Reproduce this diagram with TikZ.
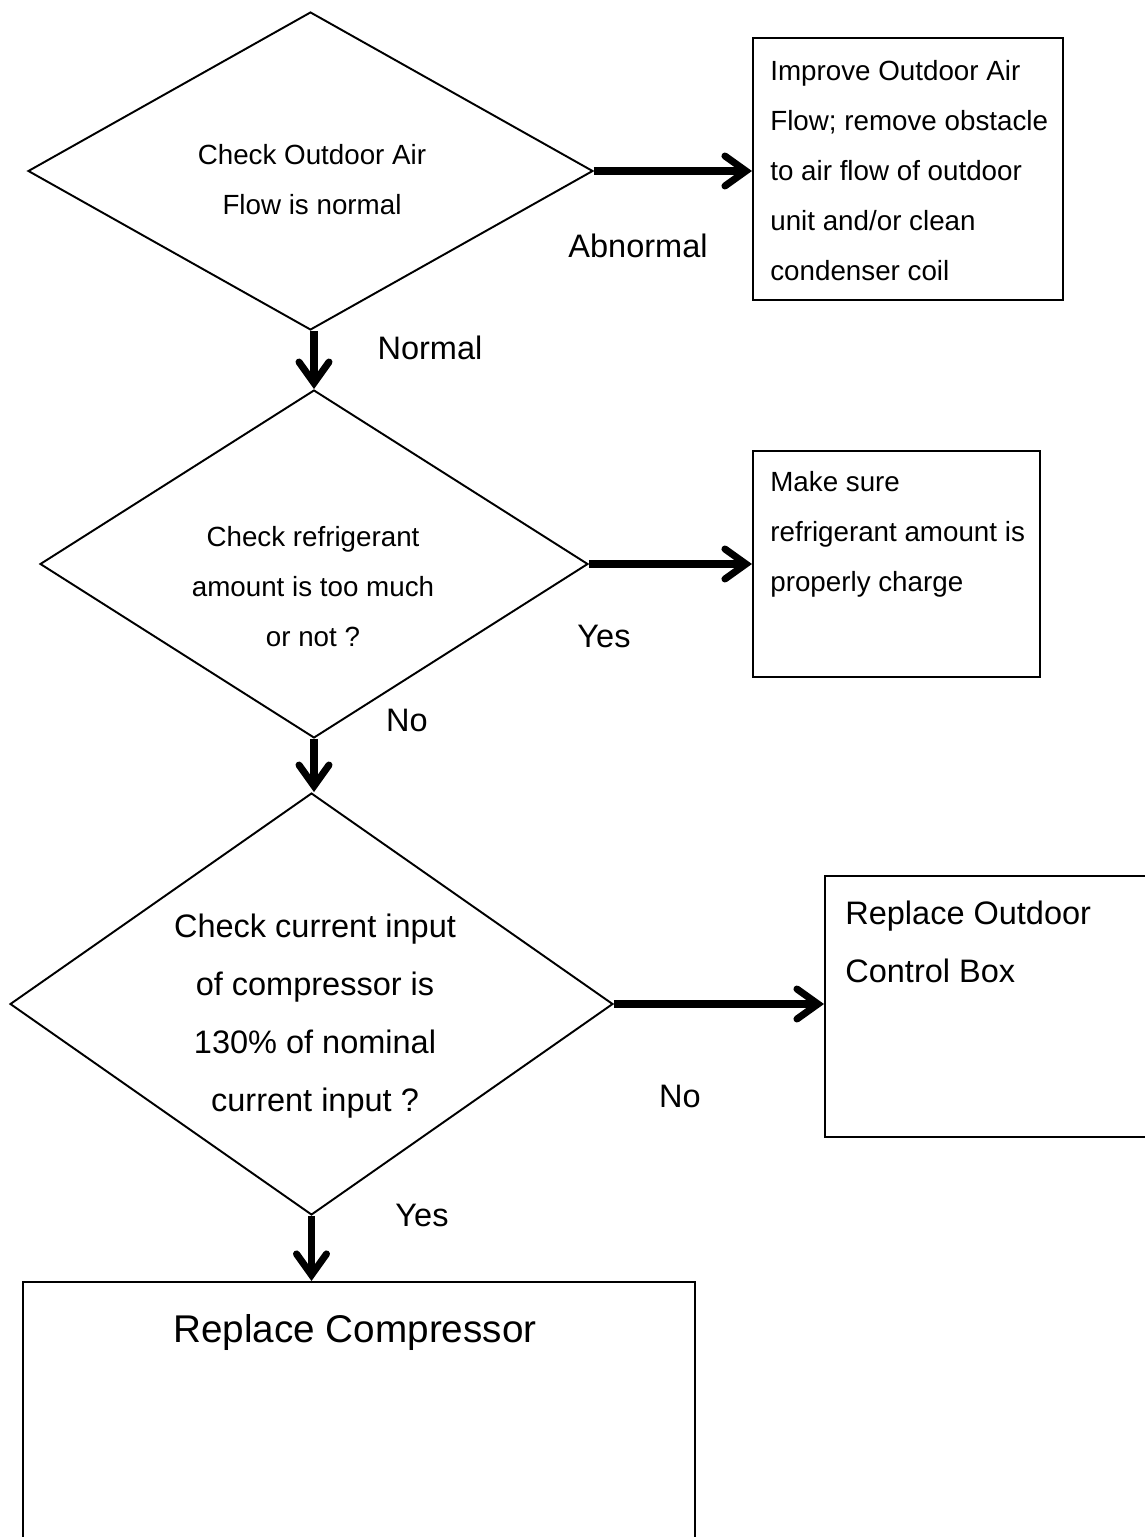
\documentclass[tikz,border=0pt]{standalone}
\usepackage{fontspec}
\setmainfont{Liberation Sans}
\usepackage{xcolor}
\usetikzlibrary{positioning, calc, shapes.geometric, arrows.meta}

\begin{document}
\begin{tikzpicture}[
    x=0.02cm, y=-0.02cm,
    smalltext/.style={font=\fontsize{15.8}{28.45}\selectfont, inner sep=0pt},
    bigtext/.style={font=\fontsize{18.5}{33}\selectfont, inner sep=0pt},
    decision/.style={
        diamond,
        draw,
        line width=1.1pt,
        inner sep=0pt
    },
    process/.style={
        rectangle,
        draw,
        line width=1.2pt,
        inner sep=0pt
    },
    arrow/.style={
        -{Straight Barb[length=0.42cm, width=0.6cm, line cap=round]},
        line width=4pt
    }
]

\path[use as bounding box, clip] (0,0) rectangle (1145,1537);

% Blocs
\node[decision, minimum width=11.3cm, minimum height=6.36cm] (check1) at (310.5,171) {};
\node[smalltext, align=center] (check1txt) at (312,180) {Check Outdoor Air\\Flow is normal};

\node[decision, minimum width=10.96cm, minimum height=6.96cm] (check2) at (314,564) {};
\node[smalltext, align=center] (check2txt) at (313,587) {Check refrigerant\\amount is too much\\or not ?};

\node[decision, minimum width=12.06cm, minimum height=8.44cm] (check3) at (311.5,1004) {};
\node[bigtext, align=center] (check3txt) at (315,1016) {Check current input\\of compressor is\\130\% of nominal\\current input ?};

\node[process, minimum width=6.2cm, minimum height=5.24cm] (airflow) at (908,169) {};
\node[smalltext, align=left, anchor=west] (airflowtxt) at (770,171) {Improve Outdoor Air\\Flow; remove obstacle\\to air flow of outdoor\\unit and/or clean\\condenser coil};

\node[process, minimum width=5.74cm, minimum height=4.52cm] (charge) at (896.5,564) {};
\node[smalltext, align=left, anchor=west] (chargetxt) at (770,534) {Make sure\\refrigerant amount is\\properly charge};

\node[process, minimum width=6.7cm, minimum height=5.22cm] (ctrlbox) at (992.5,1006.5) {};
\node[bigtext, align=left, anchor=west] (ctrlboxtxt) at (845,942) {Replace Outdoor\\Control Box};

\node[process, minimum width=13.44cm, minimum height=5.56cm] (compressor) at (359,1421) {};
\node[font=\fontsize{22}{26}\selectfont, inner sep=0pt] (compressortxt) at (355,1332) {Replace Compressor};

% Labels
\node[bigtext] (abnormal) at (638,246) {Abnormal};
\node[bigtext] (normal) at (430,348) {Normal};
\node[bigtext] (yes1) at (604,636) {Yes};
\node[bigtext] (no1) at (407,720) {No};
\node[bigtext] (no2) at (680,1096) {No};
\node[bigtext] (yes2) at (422,1215) {Yes};

% Check1 -> Airflow : Abnormal
\draw[arrow]
    (check1.east) -- (airflow.west |- check1.east);

% Check1 -> Check2 : Normal
\draw[arrow]
    (check2.north |- check1.south) -- (check2.north);

% Check2 -> Charge : Yes
\draw[arrow]
    (check2.east) -- (charge.west |- check2.east);

% Check2 -> Check3 : No
\draw[arrow]
    (check2.south) -- (check2.south |- check3.north);

% Check3 -> Ctrlbox : No
\draw[arrow]
    (check3.east) -- (ctrlbox.west |- check3.east);

% Check3 -> Compressor : Yes
\draw[arrow]
    (check3.south) -- (check3.south |- compressor.north);

\end{tikzpicture}
\end{document}
